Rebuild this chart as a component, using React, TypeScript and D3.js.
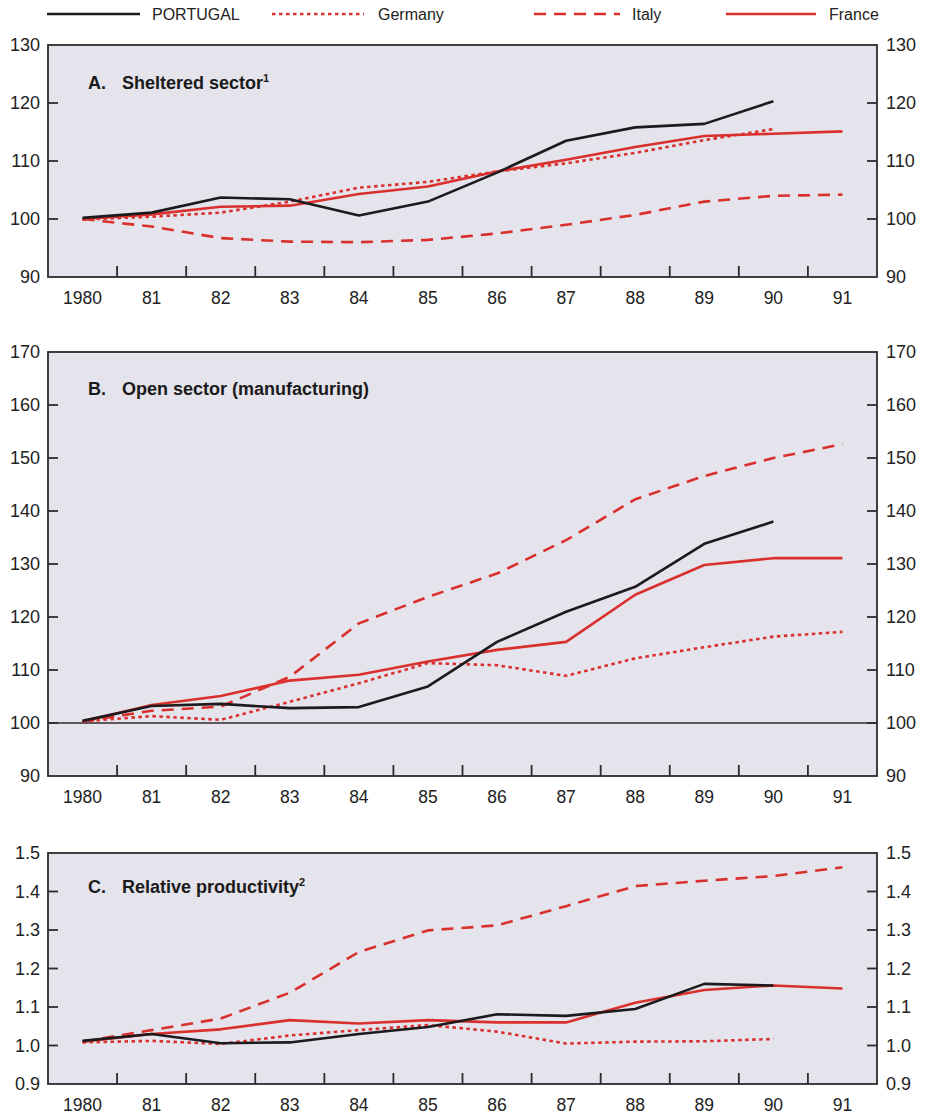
import { line, scaleLinear, format } from "d3";

const years = ["1980", "81", "82", "83", "84", "85", "86", "87", "88", "89", "90", "91"];

// A. Sheltered sector
const aPortugal = [100.2, 101.1, 103.7, 103.4, 100.6, 103.0, 108.0, 113.5, 115.8, 116.4, 120.3];
const aGermany = [99.9, 100.4, 101.1, 103.0, 105.4, 106.4, 108.2, 109.6, 111.4, 113.6, 115.5];
const aItaly = [100.0, 98.7, 96.7, 96.1, 96.0, 96.4, 97.5, 99.0, 100.7, 103.0, 104.0, 104.2];
const aFrance = [100.0, 100.8, 102.1, 102.3, 104.3, 105.6, 108.2, 110.2, 112.4, 114.3, 114.7, 115.1];

// B. Open sector (manufacturing)
const bPortugal = [100.4, 103.2, 103.6, 102.8, 103.0, 106.9, 115.3, 121.0, 125.7, 133.8, 138.0];
const bGermany = [100.3, 101.3, 100.6, 104.0, 107.5, 111.3, 110.9, 108.9, 112.2, 114.3, 116.3, 117.2];
const bItaly = [100.3, 102.3, 103.1, 108.7, 118.8, 123.8, 128.2, 134.5, 142.2, 146.6, 150.0, 152.6];
const bFrance = [100.3, 103.4, 105.1, 108.0, 109.1, 111.6, 113.8, 115.3, 124.2, 129.8, 131.1, 131.1];

// C. Relative productivity
const cPortugal = [1.012, 1.03, 1.006, 1.008, 1.03, 1.048, 1.081, 1.077, 1.095, 1.16, 1.156];
const cGermany = [1.008, 1.012, 1.004, 1.026, 1.04, 1.053, 1.036, 1.005, 1.01, 1.011, 1.017];
const cItaly = [1.01, 1.04, 1.07, 1.137, 1.243, 1.299, 1.312, 1.362, 1.414, 1.428, 1.44, 1.463];
const cFrance = [1.01, 1.03, 1.042, 1.066, 1.057, 1.066, 1.06, 1.06, 1.111, 1.144, 1.156, 1.148];

const ticksA = [90, 100, 110, 120, 130];
const ticksB = [90, 100, 110, 120, 130, 140, 150, 160, 170];
const ticksC = [0.9, 1.0, 1.1, 1.2, 1.3, 1.4, 1.5];

const RED = "#d9302e";
const BLACK = "#1c1a1c";
const BG = "#e5e3eb";
const FRAME = "#2e2a2e";
const FONT = "'Liberation Sans', Arial, sans-serif";

const styles: Record<string, { stroke: string; dash?: string }> = {
  PORTUGAL: { stroke: BLACK },
  Germany: { stroke: RED, dash: "3.5,3.5" },
  Italy: { stroke: RED, dash: "12,8" },
  France: { stroke: RED },
};

const x = scaleLinear().domain([-0.5, 11.5]).range([48, 877]);

interface PanelProps {
  top: number;
  bottom: number;
  ticks: number[];
  fmt: (v: number) => string;
  letter: string;
  title: string;
  sup?: string;
  titleY: number;
  series: { name: string; values: number[] }[];
  baseline?: number;
}

function Panel({ top, bottom, ticks, fmt, letter, title, sup, titleY, series, baseline }: PanelProps) {
  const y = scaleLinear().domain([ticks[0], ticks[ticks.length - 1]]).range([bottom, top]);
  const [x0, x1] = x.range();
  const gen = line<number>()
    .x((_d, i) => x(i))
    .y((d) => y(d));
  const mids = years.slice(1).map((_d, i) => i + 0.5);
  return (
    <g>
      <rect x={x0} y={top} width={x1 - x0} height={bottom - top} fill={BG} />
      {baseline !== undefined && (
        <line x1={x0} x2={x1} y1={y(baseline)} y2={y(baseline)} stroke={FRAME} strokeWidth={1.5} />
      )}
      {/* order: Italy, Germany, France, Portugal */}
      {["Italy", "Germany", "France", "PORTUGAL"].map((n) => {
        const s = series.find((d) => d.name === n)!;
        const st = styles[n];
        return (
          <path
            key={n}
            d={gen(s.values) || ""}
            fill="none"
            stroke={st.stroke}
            strokeWidth={2.6}
            strokeDasharray={st.dash}
            strokeLinejoin="round"
          />
        );
      })}
      <rect x={x0} y={top} width={x1 - x0} height={bottom - top} fill="none" stroke={FRAME} strokeWidth={1.8} />
      {ticks.slice(1, -1).map((t) => (
        <g key={t}>
          <line x1={x0} x2={x0 + 10} y1={y(t)} y2={y(t)} stroke={FRAME} strokeWidth={1.8} />
          <line x1={x1 - 10} x2={x1} y1={y(t)} y2={y(t)} stroke={FRAME} strokeWidth={1.8} />
        </g>
      ))}
      {mids.map((m) => (
        <line key={m} x1={x(m)} x2={x(m)} y1={bottom} y2={bottom - 11} stroke={FRAME} strokeWidth={1.8} />
      ))}
      {ticks.map((t) => (
        <g key={"l" + t} fontSize={18} fill="#222">
          <text x={40} y={y(t)} dy="0.35em" textAnchor="end">
            {fmt(t)}
          </text>
          <text x={886} y={y(t)} dy="0.35em" textAnchor="start">
            {fmt(t)}
          </text>
        </g>
      ))}
      {years.map((yr, i) => (
        <text key={yr} x={x(i)} y={bottom + 21} dy="0.35em" textAnchor="middle" fontSize={17.5} fill="#222">
          {yr}
        </text>
      ))}
      <text x={88} y={titleY} fontSize={18} fontWeight="bold" fill="#1a1a1a">
        {letter}
      </text>
      <text x={122} y={titleY} fontSize={18} fontWeight="bold" fill="#1a1a1a">
        {title}
        {sup && (
          <tspan fontSize={11} dy={-7}>
            {sup}
          </tspan>
        )}
      </text>
    </g>
  );
}

function Legend() {
  const items = [
    { name: "PORTUGAL", x1: 47, x2: 140, tx: 152 },
    { name: "Germany", x1: 272, x2: 364, tx: 378 },
    { name: "Italy", x1: 534, x2: 620, tx: 632 },
    { name: "France", x1: 726, x2: 816, tx: 829 },
  ];
  return (
    <g>
      {items.map((it) => (
        <g key={it.name}>
          <line
            x1={it.x1}
            x2={it.x2}
            y1={14}
            y2={14}
            stroke={styles[it.name].stroke}
            strokeWidth={2.6}
            strokeDasharray={styles[it.name].dash}
          />
          <text x={it.tx} y={14} dy="0.35em" fontSize={16} fill="#222">
            {it.name}
          </text>
        </g>
      ))}
    </g>
  );
}

export default function App() {
  const f0 = format("d");
  const f1 = format(".1f");
  return (
    <svg
      width={925}
      height={1114}
      viewBox="0 0 925 1114"
      style={{ position: "absolute", left: 0, top: 0, background: "#fff", fontFamily: FONT }}
    >
      <Legend />
      <Panel
        top={45}
        bottom={277}
        ticks={ticksA}
        fmt={f0}
        letter="A."
        title="Sheltered sector"
        sup="1"
        titleY={89}
        series={[
          { name: "PORTUGAL", values: aPortugal },
          { name: "Germany", values: aGermany },
          { name: "Italy", values: aItaly },
          { name: "France", values: aFrance },
        ]}
      />
      <Panel
        top={352}
        bottom={776}
        ticks={ticksB}
        fmt={f0}
        letter="B."
        title="Open sector (manufacturing)"
        titleY={395}
        baseline={100}
        series={[
          { name: "PORTUGAL", values: bPortugal },
          { name: "Germany", values: bGermany },
          { name: "Italy", values: bItaly },
          { name: "France", values: bFrance },
        ]}
      />
      <Panel
        top={853}
        bottom={1084}
        ticks={ticksC}
        fmt={f1}
        letter="C."
        title="Relative productivity"
        sup="2"
        titleY={893}
        series={[
          { name: "PORTUGAL", values: cPortugal },
          { name: "Germany", values: cGermany },
          { name: "Italy", values: cItaly },
          { name: "France", values: cFrance },
        ]}
      />
    </svg>
  );
}
